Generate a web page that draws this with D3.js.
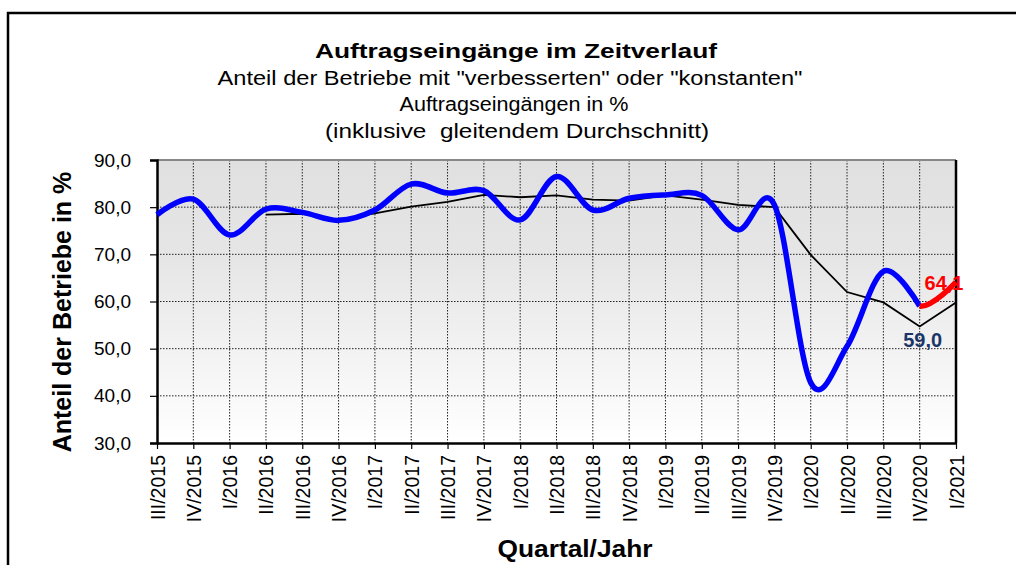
<!DOCTYPE html>
<html>
<head>
<meta charset="utf-8">
<script src="https://cdn.jsdelivr.net/npm/d3@7"></script>
<style>
body { margin: 0; background: #fff; }
text { font-family: "Liberation Sans", Arial, sans-serif; }
</style>
</head>
<body>
<script>
var width = 1016,
	height = 565,
	plotLeft = 157,
	plotRight = 956,
	plotTop = 160,
	plotBottom = 443,
	colorMain = "#0000ff",
	colorNew = "#ff0000",
	colorLabel = "#1a3668";

// Quartale und Werte (Anteil der Betriebe in %)
var quartale = ["III/2015", "IV/2015", "I/2016", "II/2016", "III/2016", "IV/2016",
	"I/2017", "II/2017", "III/2017", "IV/2017", "I/2018", "II/2018", "III/2018", "IV/2018",
	"I/2019", "II/2019", "III/2019", "IV/2019", "I/2020", "II/2020", "III/2020", "IV/2020", "I/2021"];

var werte = [78.4, 81.7, 74.1, 79.6, 78.9, 77.2, 79.4, 84.9, 83.0, 83.5, 77.3, 86.5,
	79.4, 81.9, 82.6, 82.5, 75.2, 80.5, 42.8, 50.5, 66.4, 59.0, 64.1];

// gleitender Durchschnitt, beginnt erst ab II/2016
var durchschnitt = [null, null, null, 78.4, 78.6, 77.3, 78.7, 80.1, 81.1, 82.6, 82.1, 82.5,
	81.6, 81.4, 82.5, 81.6, 80.5, 80.0, 69.9, 62.0, 59.8, 54.7, 59.8];

var data = quartale.map(function(q, i) {
	return { quartal: q, wert: werte[i], schnitt: durchschnitt[i], index: i };
});

var svg = d3.select("body")
	.append("svg")
	.attr("width", width)
	.attr("height", height);

// Rahmen um das ganze Diagramm (geht rechts und unten über den Rand hinaus)
svg.append("rect")
	.attr("x", 8)
	.attr("y", 13)
	.attr("width", width + 20)
	.attr("height", height + 20)
	.attr("fill", "#fff")
	.attr("stroke", "#000")
	.attr("stroke-width", 2.5);

var x = d3.scalePoint().domain(quartale).range([plotLeft, plotRight]);
var y = d3.scaleLinear().domain([30, 90]).range([plotBottom, plotTop]);

// Hintergrund mit Verlauf
var grad = svg.append("defs").append("linearGradient")
	.attr("id", "bg")
	.attr("x1", 0).attr("y1", 0)
	.attr("x2", 0).attr("y2", 1);
grad.append("stop").attr("offset", "0%").attr("stop-color", "#e0e0e0");
grad.append("stop").attr("offset", "35%").attr("stop-color", "#e6e6e6");
grad.append("stop").attr("offset", "100%").attr("stop-color", "#ffffff");

svg.select("defs").append("clipPath")
	.attr("id", "rechts")
	.append("rect")
	.attr("x", x("IV/2020"))
	.attr("y", 0)
	.attr("width", 200)
	.attr("height", height);

svg.append("rect")
	.attr("x", plotLeft)
	.attr("y", plotTop)
	.attr("width", plotRight - plotLeft)
	.attr("height", plotBottom - plotTop)
	.attr("fill", "url(#bg)");

// Gitternetz (gepunktet)
svg.append("g")
	.selectAll("line")
	.data([40, 50, 60, 70, 80])
	.enter().append("line")
	.attr("x1", plotLeft)
	.attr("x2", plotRight)
	.attr("y1", function(d) { return y(d); })
	.attr("y2", function(d) { return y(d); })
	.attr("stroke", "#222")
	.attr("stroke-width", 1)
	.attr("stroke-dasharray", "1.5,1.5");

svg.append("g")
	.selectAll("line")
	.data(quartale.slice(1, -1))
	.enter().append("line")
	.attr("x1", function(d) { return x(d); })
	.attr("x2", function(d) { return x(d); })
	.attr("y1", plotTop)
	.attr("y2", plotBottom)
	.attr("stroke", "#222")
	.attr("stroke-width", 1)
	.attr("stroke-dasharray", "1.5,1.5");

// oberer Rand grau
svg.append("line")
	.attr("x1", plotLeft).attr("x2", plotRight)
	.attr("y1", plotTop).attr("y2", plotTop)
	.attr("stroke", "#888")
	.attr("stroke-width", 2);

svg.append("line")
	.attr("x1", plotRight).attr("x2", plotRight)
	.attr("y1", plotTop).attr("y2", plotBottom)
	.attr("stroke", "#000")
	.attr("stroke-width", 2.5);

// Achsen
var yAxis = svg.append("g")
	.attr("transform", "translate(" + plotLeft + ",0)")
	.call(d3.axisLeft(y)
		.tickValues([30, 40, 50, 60, 70, 80, 90])
		.tickSize(7)
		.tickPadding(19)
		.tickFormat(function(d) { return d3.format(".1f")(d).replace(".", ","); }));

yAxis.selectAll("text")
	.attr("font-size", 19)
	.attr("font-weight", "normal")
	.attr("font-family", "Liberation Sans, Arial, sans-serif")
	.attr("fill", "#000");

var xAxis = svg.append("g")
	.attr("transform", "translate(0," + plotBottom + ")")
	.call(d3.axisBottom(x).tickSize(6).tickSizeOuter(0));

xAxis.selectAll("text")
	.attr("transform", "rotate(-90)")
	.attr("x", -12)
	.attr("y", 0)
	.attr("dy", "0.36em")
	.attr("text-anchor", "end")
	.attr("font-size", 19.5)
	.attr("font-weight", "normal")
	.attr("font-family", "Liberation Sans, Arial, sans-serif")
	.attr("fill", "#000");

svg.selectAll(".domain")
	.attr("stroke", "#000")
	.attr("stroke-width", 2.5);
svg.selectAll(".tick line")
	.attr("stroke", "#000")
	.attr("stroke-width", 1.2);

// gleitender Durchschnitt (schwarz, gerade Linien)
var lineSchnitt = d3.line()
	.defined(function(d) { return d.schnitt !== null; })
	.x(function(d) { return x(d.quartal); })
	.y(function(d) { return y(d.schnitt); });

svg.append("path")
	.datum(data)
	.attr("d", lineSchnitt)
	.attr("fill", "none")
	.attr("stroke", "#000")
	.attr("stroke-width", 1.8);

// Werte, geglättet
var lineWert = d3.line()
	.curve(d3.curveCardinal.tension(0))
	.x(function(d) { return x(d.quartal); })
	.y(function(d) { return y(d.wert); });

svg.append("path")
	.datum(data.slice(0, 22))
	.attr("d", lineWert)
	.attr("fill", "none")
	.attr("stroke", colorMain)
	.attr("stroke-width", 5.5)
	.attr("stroke-linejoin", "round");

// neuester Wert in rot
svg.append("path")
	.datum(data.slice(20))
	.attr("d", lineWert)
	.attr("clip-path", "url(#rechts)")
	.attr("fill", "none")
	.attr("stroke", colorNew)
	.attr("stroke-width", 5.5);

// Datenbeschriftungen
svg.append("text")
	.attr("x", x("I/2021") - 12)
	.attr("y", y(data[22].wert) + 8)
	.attr("text-anchor", "middle")
	.attr("font-size", 20)
	.attr("font-weight", "bold")
	.attr("fill", colorNew)
	.text("64,1");

svg.append("text")
	.attr("x", x("IV/2020") + 3)
	.attr("y", y(data[21].schnitt) + 21)
	.attr("text-anchor", "middle")
	.attr("font-size", 20)
	.attr("font-weight", "bold")
	.attr("fill", colorLabel)
	.text("59,0");

// Titel
var titel = [
	{ text: "Auftragseingänge im Zeitverlauf", y: 58, bold: true, len: 402, cx: 516 },
	{ text: "Anteil der Betriebe mit \"verbesserten\" oder \"konstanten\"", y: 85, bold: false, len: 585, cx: 510 },
	{ text: "Auftragseingängen in %", y: 111, bold: false, len: 229, cx: 514 },
	{ text: "(inklusive  gleitendem Durchschnitt)", y: 138, bold: false, len: 384, cx: 517 }
];

svg.selectAll(".titel")
	.data(titel)
	.enter().append("text")
	.attr("class", "titel")
	.attr("x", function(d) { return d.cx; })
	.attr("y", function(d) { return d.y; })
	.attr("text-anchor", "middle")
	.attr("font-size", 20)
	.attr("font-weight", function(d) { return d.bold ? "bold" : "normal"; })
	.attr("textLength", function(d) { return d.len; })
	.attr("lengthAdjust", "spacingAndGlyphs")
	.style("white-space", "pre")
	.text(function(d) { return d.text; });

// Achsentitel
svg.append("text")
	.attr("transform", "translate(71,312) rotate(-90)")
	.attr("text-anchor", "middle")
	.attr("font-size", 25)
	.attr("font-weight", "bold")
	.text("Anteil der Betriebe in %");

svg.append("text")
	.attr("x", 575)
	.attr("y", 557)
	.attr("text-anchor", "middle")
	.attr("font-size", 24)
	.attr("font-weight", "bold")
	.attr("textLength", 155)
	.attr("lengthAdjust", "spacingAndGlyphs")
	.text("Quartal/Jahr");
</script>
</body>
</html>
